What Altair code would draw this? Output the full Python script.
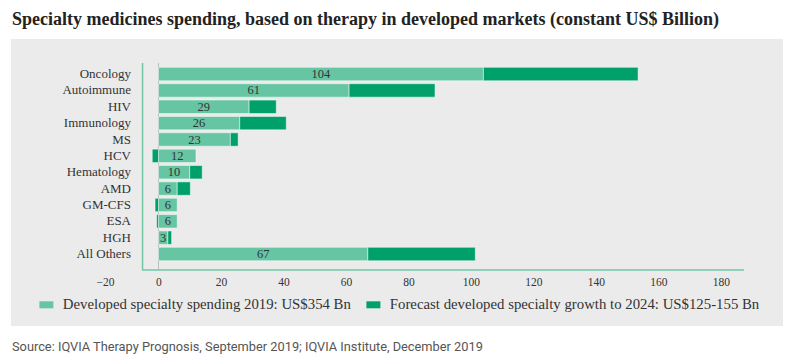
import altair as alt
import pandas as pd

categories = ["Oncology", "Autoimmune", "HIV", "Immunology", "MS", "HCV",
              "Hematology", "AMD", "GM-CFS", "ESA", "HGH", "All Others"]
spend_2019 = [104, 61, 29, 26, 23, 12, 10, 6, 6, 6, 3, 67]
growth_2024 = [49.5, 27.5, 8.7, 14.9, 2.5, -2.0, 4.0, 4.2, -1.1, -0.6, 1.2, 34.4]
x_ticks = [-20, 0, 20, 40, 60, 80, 100, 120, 140, 160, 180]

series_dev = "Developed specialty spending 2019: US$354 Bn"
series_fc = "Forecast developed specialty growth to 2024: US$125-155 Bn"
title_text = "Specialty medicines spending, based on therapy in developed markets (constant US$ Billion)"
source_text = "Source: IQVIA Therapy Prognosis, September 2019; IQVIA Institute, December 2019"

LIGHT = "#66C5A3"
DARK = "#00A06A"
FRAME = "#72C7A5"
PANEL = "#EBEBEB"
SERIF = "Liberation Serif"

rows = []
for c, d, g in zip(categories, spend_2019, growth_2024):
    rows.append({"Category": c, "Series": series_dev, "start": 0, "end": d})
    if g >= 0:
        rows.append({"Category": c, "Series": series_fc, "start": d, "end": d + g})
    else:
        rows.append({"Category": c, "Series": series_fc, "start": g, "end": 0})
df = pd.DataFrame(rows)
lab_df = pd.DataFrame({"Category": categories, "value": spend_2019, "mid": [v / 2 for v in spend_2019]})
cat_df = pd.DataFrame({"Category": categories})

W, H = 648, 207
xscale = alt.Scale(domain=[-20, 187.4], nice=False, zero=False)
yscale = alt.Scale(domain=categories, paddingInner=0.18, paddingOuter=0.416, align=0.32)
one = alt.Data(values=[{"a": 1}])

panel = alt.Chart(one).mark_rect(color=PANEL).encode(
    x=alt.value(-85), x2=alt.value(687), y=alt.value(-24), y2=alt.value(263)
)

zero_rule = alt.Chart(one).mark_rule(color="#BDBDBD", strokeWidth=1).encode(
    x=alt.datum(0, scale=xscale), y=alt.value(0), y2=alt.value(H)
)
left_rule = alt.Chart(one).mark_rule(color=FRAME, strokeWidth=1.5).encode(
    x=alt.datum(-5.1), y=alt.value(0), y2=alt.value(H + 0.5)
)
bottom_rule = alt.Chart(one).mark_rule(color=FRAME, strokeWidth=1.5).encode(
    x=alt.datum(-5.1), x2=alt.datum(187.4), y=alt.value(H)
)

bars = alt.Chart(df).mark_bar(stroke="white", strokeOpacity=0.6, strokeWidth=0.8).encode(
    x=alt.X("start:Q", scale=xscale,
            axis=alt.Axis(values=x_ticks, domain=False, ticks=False, grid=False, title=None,
                          labelFont=SERIF, labelFontSize=11.5, labelColor="#333333",
                          labelPadding=6, zindex=2)),
    x2="end:Q",
    y=alt.Y("Category:N", scale=yscale, sort=categories, axis=None),
    color=alt.Color("Series:N",
                    scale=alt.Scale(domain=[series_dev, series_fc], range=[LIGHT, DARK]),
                    legend=alt.Legend(orient="none", legendX=-57, legendY=234,
                                      direction="horizontal", title=None,
                                      symbolType="M-1,-0.5H1V0.5H-1Z", symbolSize=196,
                                      symbolStrokeWidth=0, labelFont=SERIF, labelFontSize=14.8,
                                      labelColor="#333333", labelOffset=9, columnPadding=15,
                                      labelLimit=0, zindex=2)),
)

values_text = alt.Chart(lab_df).mark_text(font=SERIF, fontSize=12.5, color="#333333",
                                          align="center", baseline="middle").encode(
    x=alt.X("mid:Q", scale=xscale),
    y=alt.Y("Category:N", scale=yscale, sort=categories),
    text="value:Q",
)

cat_text = alt.Chart(cat_df).mark_text(font=SERIF, fontSize=13, color="#333333",
                                       align="right", baseline="middle").encode(
    x=alt.value(35),
    y=alt.Y("Category:N", scale=yscale, sort=categories),
    text="Category:N",
)

title = alt.Chart(one).mark_text(font=SERIF, fontSize=18, fontWeight="bold", color="#222222",
                                 align="left", baseline="middle").encode(
    x=alt.value(-84), y=alt.value(-43), text=alt.value(title_text)
)
source = alt.Chart(one).mark_text(font="Roboto", fontSize=12.8, color="#555555",
                                  align="left", baseline="middle").encode(
    x=alt.value(-84), y=alt.value(284), text=alt.value(source_text)
)

chart = alt.layer(panel, zero_rule, left_rule, bottom_rule, bars, values_text, cat_text, title, source).properties(
    width=W, height=H,
    autosize=alt.AutoSizeParams(type="none"),
    padding={"left": 88, "top": 55, "right": 43, "bottom": 86},
    background="white",
).configure_view(stroke=None)

chart.save("out.html", embed_options={"renderer": "svg", "actions": False})
